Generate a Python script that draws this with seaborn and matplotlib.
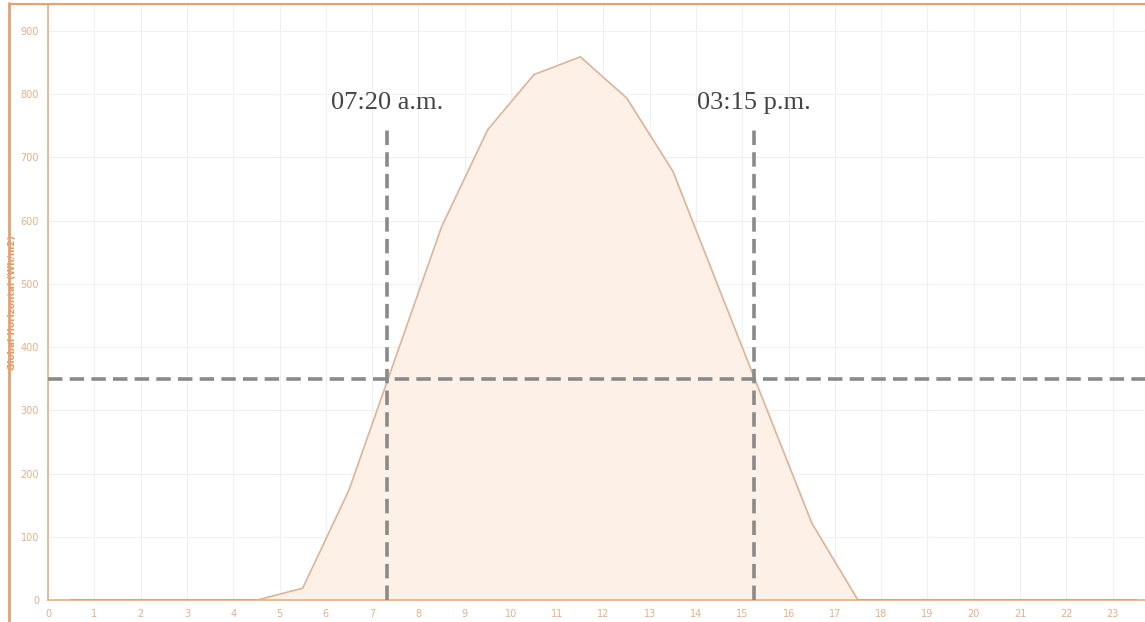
import numpy as np
import pandas as pd
import matplotlib
matplotlib.use("Agg")
import matplotlib.pyplot as plt
from matplotlib.lines import Line2D
import seaborn as sns

# Hourly global horizontal irradiance (Wh/m2)
hours = [0.5, 1.5, 2.5, 3.5, 4.5, 5.5, 6.5, 7.5, 8.5, 9.5, 10.5, 11.5,
         12.5, 13.5, 14.5, 15.5, 16.5, 17.5, 18.5, 19.5, 20.5, 21.5, 22.5, 23.5]
ghi = [0, 0, 0, 0, 0, 19, 174, 382, 590, 744, 831, 859,
       794, 678, 492, 307, 122, 0, 0, 0, 0, 0, 0, 0]

threshold = 350
cross_times = [7.333, 15.25]
cross_labels = ["07:20 a.m.", "03:15 p.m."]

x_ticks = list(range(0, 24))
y_ticks = list(range(0, 1000, 100))

df = pd.DataFrame({"hour": hours, "ghi": ghi})

sns.set_style("white")
orange = "#e8a070"
tick_col = "#e3b08c"

fig = plt.figure(figsize=(11.45, 6.22), dpi=100)
ax = fig.add_axes([0.042, 0.035, 0.958, 0.957])

ax.fill_between(df["hour"], df["ghi"], color="#fdf0e6", zorder=1)
sns.lineplot(data=df, x="hour", y="ghi", ax=ax, color="#dcb49a", linewidth=1.2, zorder=2)
# flat part at zero is drawn in orange along the axis
ax.plot(df["hour"], np.where(df["ghi"] == 0, 0, np.nan), color=orange, linewidth=1.5, zorder=3)

# threshold and crossing lines
ax.axhline(threshold, color="#8a8a8a", linestyle=(0, (4, 2)), linewidth=2.6, zorder=4)
for t, lab in zip(cross_times, cross_labels):
    ax.plot([t, t], [0, 752], color="#8a8a8a", linestyle=(0, (4, 2)), linewidth=2.6, zorder=4)
    ax.text(t, 786, lab, ha="center", va="center", fontsize=19,
            family="Liberation Serif", color="#444444")

ax.set_xlim(0, 23.7)
ax.set_ylim(0, 941)
ax.set_xticks(x_ticks)
ax.set_yticks(y_ticks)
ax.set_xticks(np.arange(0.5, 24, 1), minor=True)
ax.set_yticks(np.arange(50, 950, 100), minor=True)
ax.grid(True, which="major", color="#f0f0f0", linewidth=0.8)
ax.tick_params(axis="both", labelsize=7, colors=tick_col, length=3, width=0.8)
ax.tick_params(axis="both", which="minor", length=2, colors=tick_col)
ax.set_xlabel("")
ax.set_ylabel("Global Horizontal (Wh/m2)", fontsize=6.5, color="#e09a60",
              fontweight="bold")
ax.yaxis.set_label_coords(-0.028, 0.5)

for side in ["top", "right"]:
    ax.spines[side].set_visible(False)
for side in ["left", "bottom"]:
    ax.spines[side].set_color(tick_col)
    ax.spines[side].set_linewidth(1.2)

# outer frame of the original screenshot
fig.add_artist(Line2D([0.008, 0.008], [0, 0.995], color=orange, linewidth=2, transform=fig.transFigure))
fig.add_artist(Line2D([0.008, 1], [0.993, 0.993], color=orange, linewidth=1.5, transform=fig.transFigure))

fig.savefig("out.png", dpi=100)
